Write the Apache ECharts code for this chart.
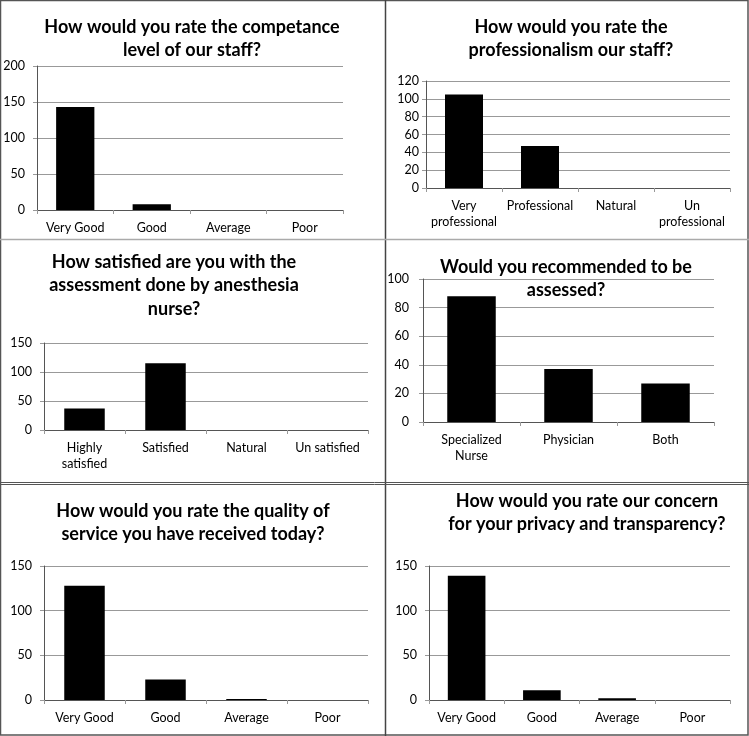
<!DOCTYPE html>
<html>
<head>
<meta charset="utf-8">
<title>Survey charts</title>
<script src="https://cdn.jsdelivr.net/npm/echarts@6/dist/echarts.min.js"></script>
<style>
  html, body { margin: 0; padding: 0; background: #fff; }
  #main { width: 749px; height: 736px; }
</style>
</head>
<body>
<div id="main"></div>
<script>
// ---- data ----
const competenceTitle = 'How would you rate the competance\nlevel of our staff?'
const competenceCats = ['Very Good', 'Good', 'Average', 'Poor']
const competenceValues = [143, 8, 0, 0]

const professionalTitle = 'How would you rate the\nprofessionalism our staff?'
const professionalCats = ['Very\nprofessional', 'Professional', 'Natural', 'Un\nprofessional']
const professionalValues = [105, 47, 0, 0]

const satisfiedTitle = 'How satisfied are you with the\nassessment done by anesthesia\nnurse?'
const satisfiedCats = ['Highly\nsatisfied', 'Satisfied', 'Natural', 'Un satisfied']
const satisfiedValues = [37, 115, 0, 0]

const recommendTitle = 'Would you recommended to be\nassessed?'
const recommendCats = ['Specialized\nNurse', 'Physician', 'Both']
const recommendValues = [88, 37, 27]

const qualityTitle = 'How would you rate the quality of\nservice you have received today?'
const qualityCats = ['Very Good', 'Good', 'Average', 'Poor']
const qualityValues = [128, 23, 1, 0]

const privacyTitle = 'How would you rate our concern\nfor your privacy and transparency?'
const privacyCats = ['Very Good', 'Good', 'Average', 'Poor']
const privacyValues = [139, 11, 2, 0]

// y axis ranges: [max, interval]
const yRanges = [[200, 50], [120, 20], [150, 50], [100, 20], [150, 50], [150, 50]]

// ---- layout of the six panels ----
const FONT = 'Lato, "Open Sans", sans-serif'
const panels = [
  { title: competenceTitle, cats: competenceCats, vals: competenceValues, tx: 192, ty: 15, grid: { left: 37, top: 66, width: 306, height: 144 }, yMargin: 12 },
  { title: professionalTitle, cats: professionalCats, vals: professionalValues, tx: 571, ty: 15, grid: { left: 426, top: 81, width: 304, height: 107 }, yMargin: 7 },
  { title: satisfiedTitle, cats: satisfiedCats, vals: satisfiedValues, tx: 174, ty: 250, grid: { left: 44, top: 343, width: 324, height: 87 }, yMargin: 12 },
  { title: recommendTitle, cats: recommendCats, vals: recommendValues, tx: 566, ty: 255, grid: { left: 423, top: 279, width: 291, height: 143 }, yMargin: 14 },
  { title: qualityTitle, cats: qualityCats, vals: qualityValues, tx: 193, ty: 499, grid: { left: 44, top: 566, width: 324, height: 134 }, yMargin: 12 },
  { title: privacyTitle, cats: privacyCats, vals: privacyValues, tx: 587, ty: 489, grid: { left: 429, top: 566, width: 301, height: 134 }, yMargin: 12 }
]

const option = {
  backgroundColor: '#fff',
  animation: false,
  title: [],
  grid: [],
  xAxis: [],
  yAxis: [],
  series: [],
  graphic: [
    // table borders
    { type: 'rect', shape: { x: 0.5, y: 0.5, width: 747.5, height: 734.5 }, style: { fill: 'none', stroke: '#555', lineWidth: 1.5 } },
    { type: 'line', shape: { x1: 385.5, y1: 0, x2: 385.5, y2: 736 }, style: { stroke: '#444', lineWidth: 1.5 } },
    { type: 'line', shape: { x1: 0, y1: 239.5, x2: 749, y2: 239.5 }, style: { stroke: '#aaa', lineWidth: 1.5 } },
    { type: 'line', shape: { x1: 0, y1: 482.5, x2: 749, y2: 482.5 }, style: { stroke: '#555', lineWidth: 1 } },
    { type: 'line', shape: { x1: 0, y1: 484.5, x2: 749, y2: 484.5 }, style: { stroke: '#555', lineWidth: 1 } }
  ]
}

panels.forEach((p, i) => {
  option.title.push({
    text: p.title,
    left: p.tx,
    top: p.ty,
    textAlign: 'center',
    padding: 0,
    textStyle: { fontFamily: FONT, fontSize: 18, fontWeight: 'bold', color: '#000', lineHeight: 23.5 }
  })
  option.grid.push(Object.assign({ containLabel: false }, p.grid))
  option.xAxis.push({
    type: 'category',
    gridIndex: i,
    data: p.cats,
    axisLine: { lineStyle: { color: '#555', width: 1 } },
    axisTick: { show: true, length: 4, lineStyle: { color: '#999' } },
    axisLabel: { interval: 0, margin: 10, color: '#000', fontFamily: FONT, fontSize: 12.5, lineHeight: 16 },
    splitLine: { show: false }
  })
  option.yAxis.push({
    type: 'value',
    gridIndex: i,
    min: 0,
    max: yRanges[i][0],
    interval: yRanges[i][1],
    axisLine: { show: true, lineStyle: { color: '#555', width: 1 } },
    axisTick: { show: true, length: 4, lineStyle: { color: '#999' } },
    axisLabel: { margin: p.yMargin, color: '#000', fontFamily: FONT, fontSize: 12.5 },
    splitLine: { show: true, lineStyle: { color: '#999', width: 1 } }
  })
  option.series.push({
    type: 'bar',
    xAxisIndex: i,
    yAxisIndex: i,
    data: p.vals,
    barWidth: '50%',
    itemStyle: { color: '#000' }
  })
})

const chart = echarts.init(document.getElementById('main'))
chart.setOption(option)
window.addEventListener('resize', () => chart.resize())
</script>
</body>
</html>
